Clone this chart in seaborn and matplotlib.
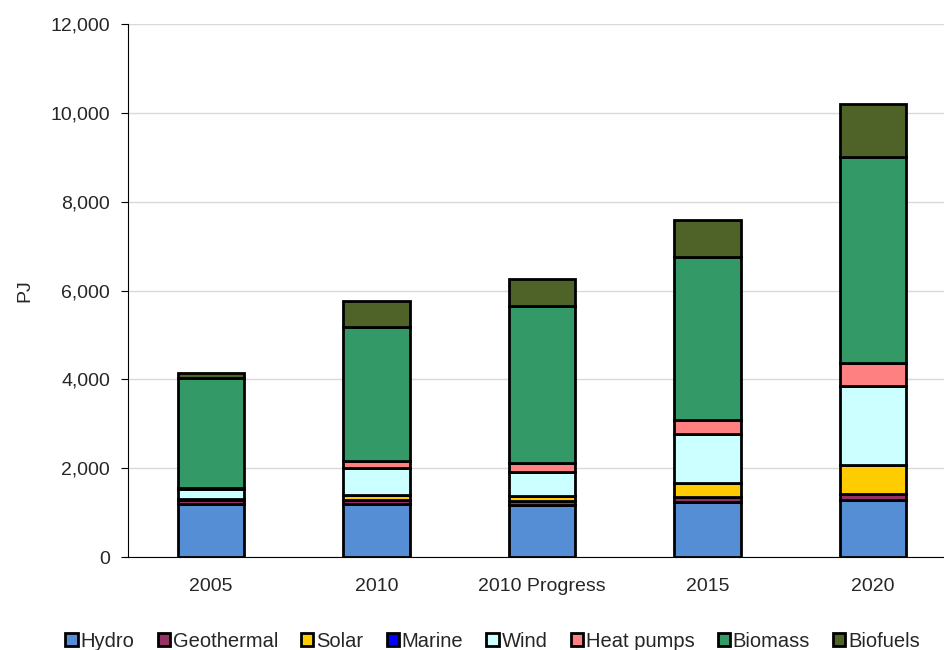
import numpy as np
import pandas as pd
import matplotlib
matplotlib.use('Agg')
import matplotlib.pyplot as plt
import seaborn as sns
from matplotlib.ticker import FuncFormatter

years = ['2005', '2010', '2010 Progress', '2015', '2020']
sources = ['Hydro', 'Geothermal', 'Solar', 'Marine', 'Wind', 'Heat pumps', 'Biomass', 'Biofuels']
colors = ['#558ED5', '#953163', '#FFCC00', '#0000FF', '#CCFFFF', '#FF8080', '#339966', '#4F6228']

# values in PJ
hydro = [1190, 1200, 1180, 1240, 1280]
geothermal = [90, 90, 80, 110, 140]
solar = [20, 110, 110, 310, 650]
marine = [0, 0, 0, 0, 0]
wind = [240, 600, 550, 1110, 1780]
heat_pumps = [20, 170, 200, 315, 520]
biomass = [2460, 3010, 3530, 3675, 4630]
biofuels = [120, 580, 610, 830, 1200]

series = [hydro, geothermal, solar, marine, wind, heat_pumps, biomass, biofuels]

sns.set_style('white')
plt.rcParams['font.family'] = ['Liberation Sans', 'DejaVu Sans']

fig = plt.figure(figsize=(9.44, 6.5), dpi=100)
ax = fig.add_axes([128/944, (650-557)/650, 828/944, 533/650])

cum = np.zeros(len(years))
for name, vals, col in zip(sources, series, colors):
    sns.barplot(x=years, y=vals, bottom=cum, color=col, edgecolor='black',
                linewidth=2, width=0.4, label=name, ax=ax, saturation=1)
    cum = cum + np.array(vals)

handles, labels = ax.get_legend_handles_labels()
if ax.get_legend() is not None:
    ax.get_legend().remove()

ax.set_ylim(0, 12000)
ax.set_xlim(-0.5, 4.5)
ax.set_yticks(range(0, 12001, 2000))
ax.yaxis.set_major_formatter(FuncFormatter(lambda v, p: f'{int(v):,}'))
ax.yaxis.grid(True, color='#d9d9d9', linewidth=1)
ax.set_axisbelow(True)
for s in ['top', 'right']:
    ax.spines[s].set_visible(False)
ax.spines['left'].set_color('black')
ax.spines['bottom'].set_color('black')
ax.set_xticks(np.arange(0, 5))
ax.set_xticks(np.arange(-0.5, 5.0, 1), minor=True)
ax.tick_params(axis='x', which='major', length=0, labelsize=14, pad=15)
ax.tick_params(axis='x', which='minor', length=5, direction='out', color='black')
ax.tick_params(axis='y', length=5, direction='out', color='black', labelsize=14, left=True, pad=8)
ax.set_ylabel('PJ', fontsize=14, labelpad=12)
ax.set_xlabel('')

fig.legend(handles, labels, loc='lower center', bbox_to_anchor=(0.522, -0.02), ncol=8,
           frameon=False, fontsize=14.5, handlelength=0.6, handleheight=0.6,
           handletextpad=0.15, columnspacing=1.15, borderaxespad=0.2)

fig.savefig('out.png', dpi=100)
